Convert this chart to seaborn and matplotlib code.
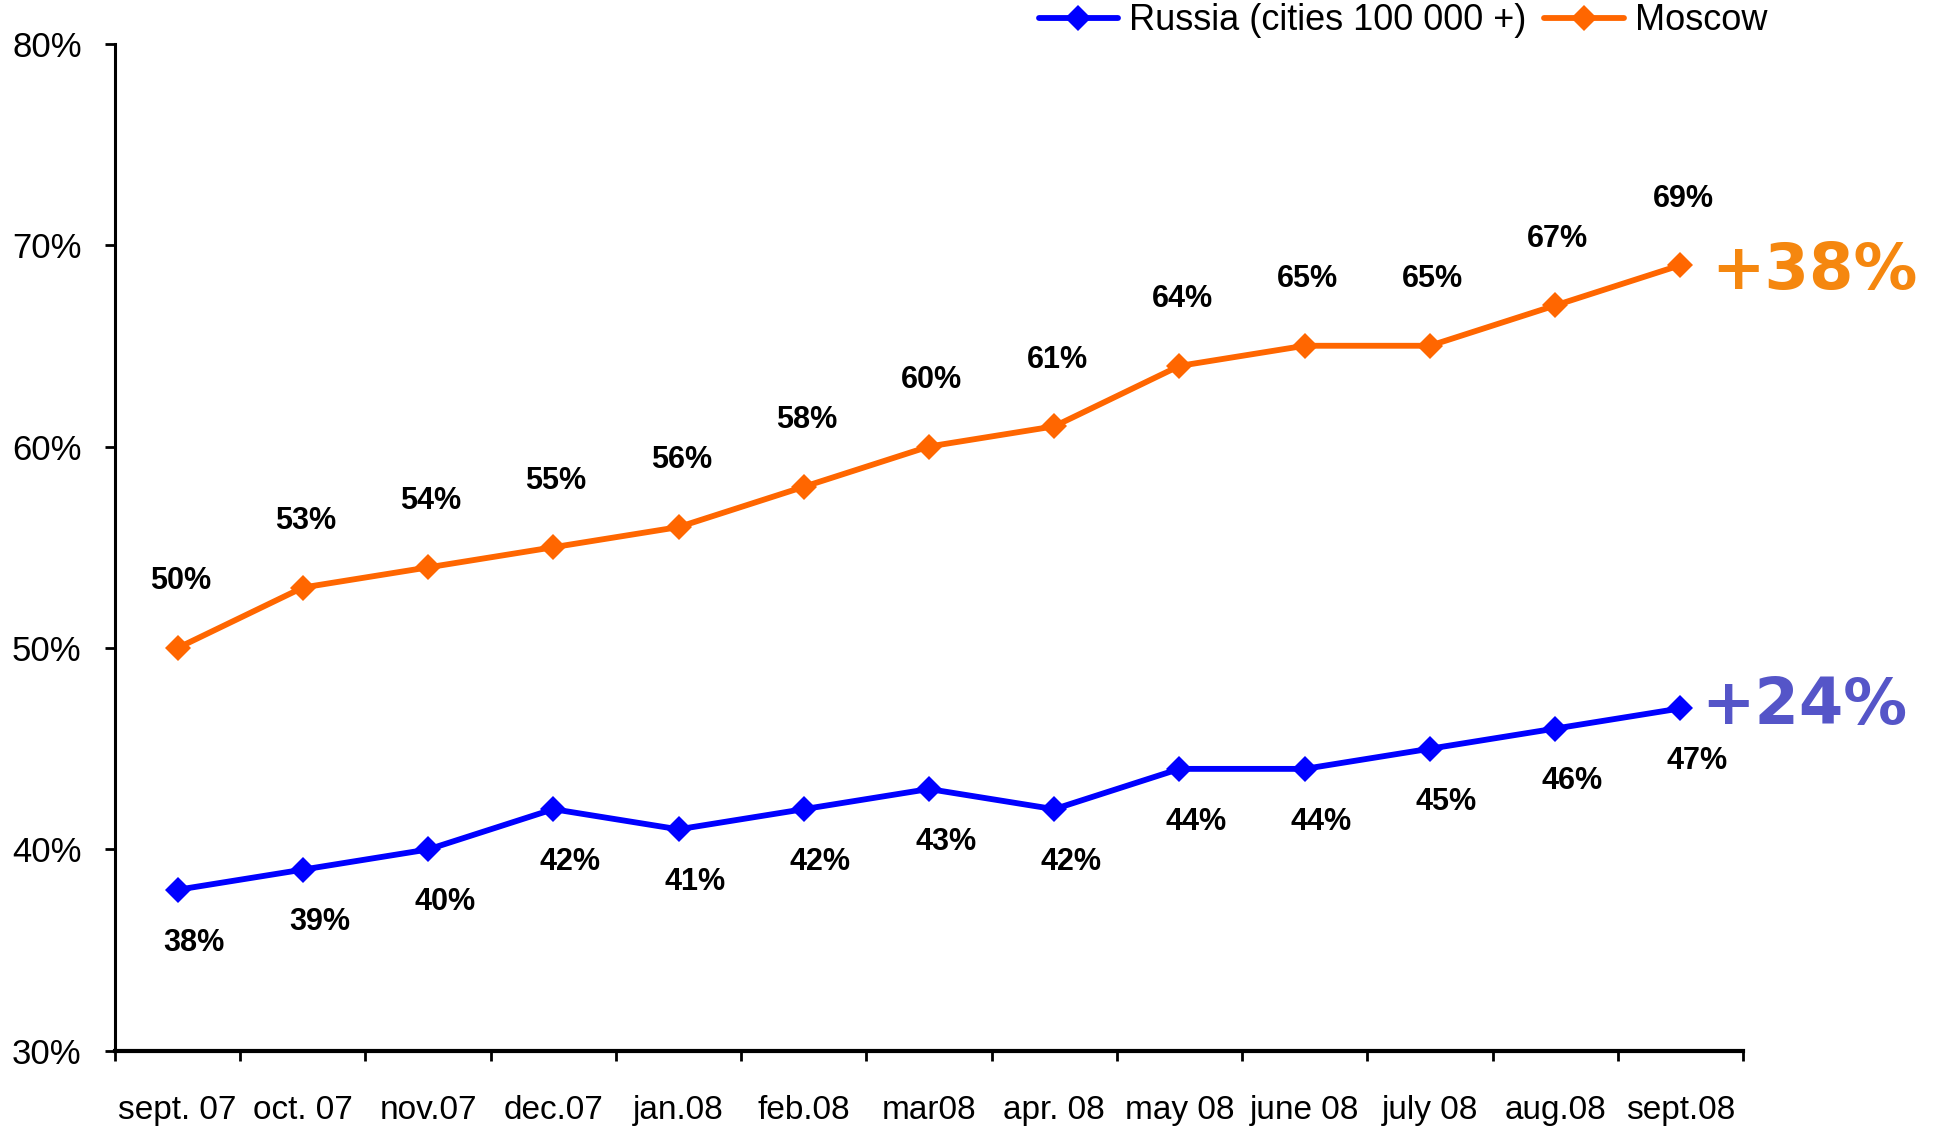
#!/usr/bin/env python3
"""Share of internet users: Russia (cities 100 000+) vs Moscow, sept.07 - sept.08."""
import pandas as pd
import matplotlib
matplotlib.use('Agg')
import matplotlib.pyplot as plt
from matplotlib.ticker import FixedLocator, PercentFormatter
import seaborn as sns


months = ['sept. 07', 'oct. 07', 'nov.07', 'dec.07', 'jan.08', 'feb.08', 'mar08',
          'apr. 08', 'may 08', 'june 08', 'july 08', 'aug.08', 'sept.08']
russia = [38, 39, 40, 42, 41, 42, 43, 42, 44, 44, 45, 46, 47]
moscow = [50, 53, 54, 55, 56, 58, 60, 61, 64, 65, 65, 67, 69]
series_names = ['Russia (cities 100 000 +)', 'Moscow']
growth = ['+24%', '+38%']

LINE_COLORS = ['#0000FF', '#FF6600']
GROWTH_COLORS = ['#5555C8', '#F5870F']


def main():
    sns.set_style('white')
    plt.rcParams['font.family'] = ['Liberation Sans', 'DejaVu Sans']
    plt.rcParams['text.color'] = 'black'
    plt.rcParams['xtick.color'] = 'black'
    plt.rcParams['ytick.color'] = 'black'

    df = pd.DataFrame({
        'pos': list(range(len(months))) * 2,
        'value': russia + moscow,
        'series': [series_names[0]] * len(russia) + [series_names[1]] * len(moscow),
    })

    fig = plt.figure(figsize=(19.39, 11.28), dpi=100)
    ax = fig.add_axes([0.0593, 0.0683, 0.8396, 0.8931])

    sns.lineplot(data=df, x='pos', y='value', hue='series', hue_order=series_names,
                 palette=LINE_COLORS, style='series', markers=['D', 'D'], dashes=False,
                 markersize=13, markeredgewidth=0, linewidth=4.2, ax=ax, legend=True)

    ax.set_xlim(-0.5, len(months) - 0.5)
    ax.set_ylim(30, 80)
    ax.set_yticks(range(30, 81, 10))
    ax.yaxis.set_major_formatter(PercentFormatter(decimals=0))
    ax.set_xticks(range(len(months)))
    ax.set_xticklabels(months)
    ax.xaxis.set_minor_locator(FixedLocator([i - 0.5 for i in range(len(months) + 1)]))
    ax.set_xlabel('')
    ax.set_ylabel('')

    sns.despine(ax=ax)
    ax.spines['left'].set_linewidth(2.2)
    ax.spines['bottom'].set_linewidth(3.0)
    for s in ('left', 'bottom'):
        ax.spines[s].set_color('black')

    ax.tick_params(axis='y', which='major', direction='out', length=7, width=2,
                   color='black', left=True, labelsize=25, pad=17)
    ax.tick_params(axis='x', which='major', length=0, labelsize=24, pad=32)
    ax.tick_params(axis='x', which='minor', direction='out', length=7, width=2,
                   color='black', bottom=True)

    # data labels
    for i, v in enumerate(moscow):
        ax.annotate(f'{v}%', (i, v), xytext=(2, 48), textcoords='offset points',
                    ha='center', va='center', fontsize=22, fontweight='bold')
    for i, v in enumerate(russia):
        ax.annotate(f'{v}%', (i, v), xytext=(12, -38), textcoords='offset points',
                    ha='center', va='center', fontsize=22, fontweight='bold')

    # growth annotations
    last = len(months) - 1
    ax.annotate(growth[1], (last, moscow[-1]), xytext=(22, -17), textcoords='offset points',
                ha='left', va='baseline', fontsize=46, fontweight='bold',
                color=GROWTH_COLORS[1], family='DejaVu Sans', annotation_clip=False)
    ax.annotate(growth[0], (last, russia[-1]), xytext=(15, -11), textcoords='offset points',
                ha='left', va='baseline', fontsize=46, fontweight='bold',
                color=GROWTH_COLORS[0], family='DejaVu Sans', annotation_clip=False)

    handles, labels = ax.get_legend_handles_labels()
    ax.get_legend().remove()
    fig.legend(handles, labels, loc='center right', bbox_to_anchor=(1767 / 1939, 1 - 21 / 1128),
               ncol=2, frameon=False, fontsize=26, handlelength=2.2, handletextpad=0.3,
               columnspacing=0.5, borderpad=0, borderaxespad=0)

    fig.savefig('out.png', dpi=100)
    plt.close(fig)


if __name__ == '__main__':
    main()
